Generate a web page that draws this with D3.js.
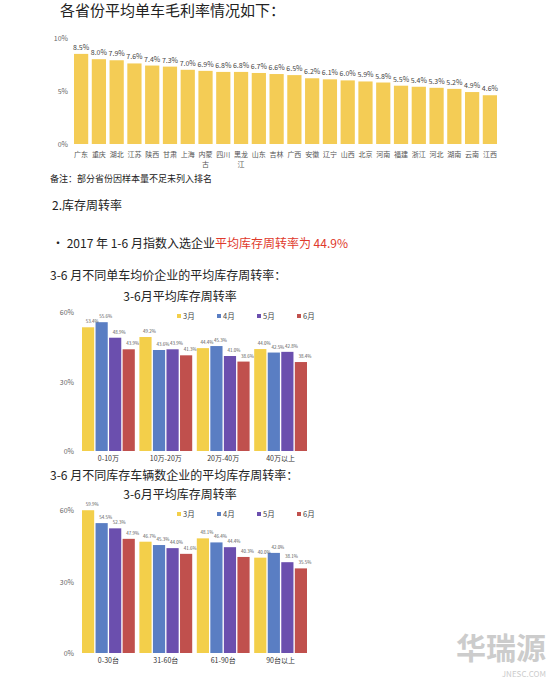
<!DOCTYPE html>
<html><head><meta charset="utf-8">
<script src="https://cdn.jsdelivr.net/npm/d3@7"></script>
<style>body{margin:0;background:#fff;font-family:"Noto Sans CJK SC","Noto Sans",sans-serif}</style>
</head><body><div id="c"></div>
<script>
// data
const provinces = ["广东","重庆","湖北","江苏","陕西","甘肃","上海","内蒙古","四川","黑龙江","山东","吉林","广西","安徽","辽宁","山西","北京","河南","福建","浙江","河北","湖南","云南","江西"];
const margins = [8.5,8.0,7.9,7.6,7.4,7.3,7.0,6.9,6.8,6.8,6.7,6.6,6.5,6.2,6.1,6.0,5.9,5.8,5.5,5.4,5.3,5.2,4.9,4.6];
const months = ["3月","4月","5月","6月"];
const priceGroups = ["0-10万","10万-20万","20万-40万","40万以上"];
const priceVals = [[53.4,55.6,48.9,43.9],[49.2,43.6,43.9,41.3],[44.4,45.3,41.0,38.6],[44.0,42.5,42.8,38.4]];
const stockGroups = ["0-30台","31-60台","61-90台","90台以上"];
const stockVals = [[59.9,54.5,52.3,47.9],[46.7,45.3,44.0,41.6],[48.1,46.4,44.4,40.3],[40.0,42.0,38.1,35.5]];
const colors = ["#f3cf4a","#5a7ec3","#6b4fae","#c0504d"];

const svg = d3.select("#c").append("svg").attr("width",550).attr("height",679);
const txt = (x,y,s,size,fill,anchor) => svg.append("text").attr("x",x).attr("y",y).attr("font-size",size)
  .attr("fill",fill||"#222").attr("text-anchor",anchor||"start").text(s);

txt(60,16,"各省份平均单车毛利率情况如下：",15);

// chart 1
const x1 = d3.scaleBand().domain(provinces).range([74,497]).paddingInner(0.2);
const y1 = d3.scaleLinear().domain([0,10]).range([144,38]);
const g1 = svg.append("g");
g1.selectAll(".t").data([0,5,10]).join("text").attr("x",68).attr("y",d=>y1(d)+3)
  .attr("text-anchor","end").attr("font-size",7).attr("fill","#666").text(d=>d+"%");
g1.selectAll("rect").data(margins).join("rect").attr("x",(d,i)=>x1(provinces[i]))
  .attr("y",d=>y1(d)).attr("width",x1.bandwidth()).attr("height",d=>y1(0)-y1(d)).attr("fill","#f4cc55");
g1.selectAll(".v").data(margins).join("text").attr("x",(d,i)=>x1(provinces[i])+x1.bandwidth()/2)
  .attr("y",d=>y1(d)-4).attr("text-anchor","middle").attr("font-size",7).attr("fill","#444").text(d=>d.toFixed(1)+"%");
provinces.forEach(p=>{
  const cx = x1(p)+x1.bandwidth()/2;
  const a = p.length>2 ? [p.slice(0,2),p.slice(2)] : [p];
  a.forEach((s,k)=>g1.append("text").attr("x",cx).attr("y",157+k*10).attr("text-anchor","middle")
    .attr("font-size",7).attr("fill","#555").text(s));
});
txt(50,182,"备注：部分省份因样本量不足未列入排名",9);

txt(52,210,"2.库存周转率",12);
svg.append("text").attr("x",52).attr("y",248).attr("font-size",12).attr("fill","#222")
  .call(t=>{t.append("tspan").text("•    2017 年 1-6 月指数入选企业");
    t.append("tspan").attr("fill","#e0392c").text("平均库存周转率为 44.9%");});

function grouped(groups, vals, top, bottom, title, heading, headY){
  txt(50,headY,heading,12);
  txt(180,top-11,title,12,"#222","middle");
  const x0 = d3.scaleBand().domain(groups).range([82,307]).paddingInner(0.08);
  const xi = d3.scaleBand().domain(months).range([0,x0.bandwidth()]).paddingInner(0.1);
  const y = d3.scaleLinear().domain([0,60]).range([bottom,top]);
  const g = svg.append("g");
  g.selectAll(".t").data([0,30,60]).join("text").attr("x",74).attr("y",d=>y(d)+3)
    .attr("text-anchor","end").attr("font-size",7).attr("fill","#666").text(d=>d+"%");
  groups.forEach((gr,i)=>{
    const gg = g.append("g").attr("transform",`translate(${x0(gr)},0)`);
    gg.selectAll("rect").data(vals[i]).join("rect").attr("x",(d,j)=>xi(months[j])).attr("y",d=>y(d))
      .attr("width",xi.bandwidth()).attr("height",d=>bottom-y(d)).attr("fill",(d,j)=>colors[j]);
    gg.selectAll(".v").data(vals[i]).join("text").attr("x",(d,j)=>xi(months[j])+xi.bandwidth()/2+4)
      .attr("y",d=>y(d)-4).attr("text-anchor","middle").attr("font-size",4.5).attr("fill","#555").text(d=>d.toFixed(1)+"%");
    g.append("text").attr("x",x0(gr)+x0.bandwidth()/2).attr("y",bottom+10).attr("text-anchor","middle")
      .attr("font-size",7).attr("fill","#333").text(gr);
  });
  months.forEach((m,j)=>{
    const lx = 177+j*40;
    g.append("rect").attr("x",lx).attr("y",top+2).attr("width",4).attr("height",4).attr("fill",colors[j]);
    g.append("text").attr("x",lx+6).attr("y",top+7).attr("font-size",7.5).attr("fill","#444").text(m);
  });
}
grouped(priceGroups, priceVals, 312, 451, "3-6月平均库存周转率", "3-6 月不同单车均价企业的平均库存周转率：", 280);
grouped(stockGroups, stockVals, 510, 653, "3-6月平均库存周转率", "3-6 月不同库存车辆数企业的平均库存周转率：", 480);

// watermark
txt(546,659,"华瑞源",30,"#ccc","end").attr("font-weight","bold");
txt(546,677,"JNESC.COM",8,"#ccc","end");
</script></body></html>
